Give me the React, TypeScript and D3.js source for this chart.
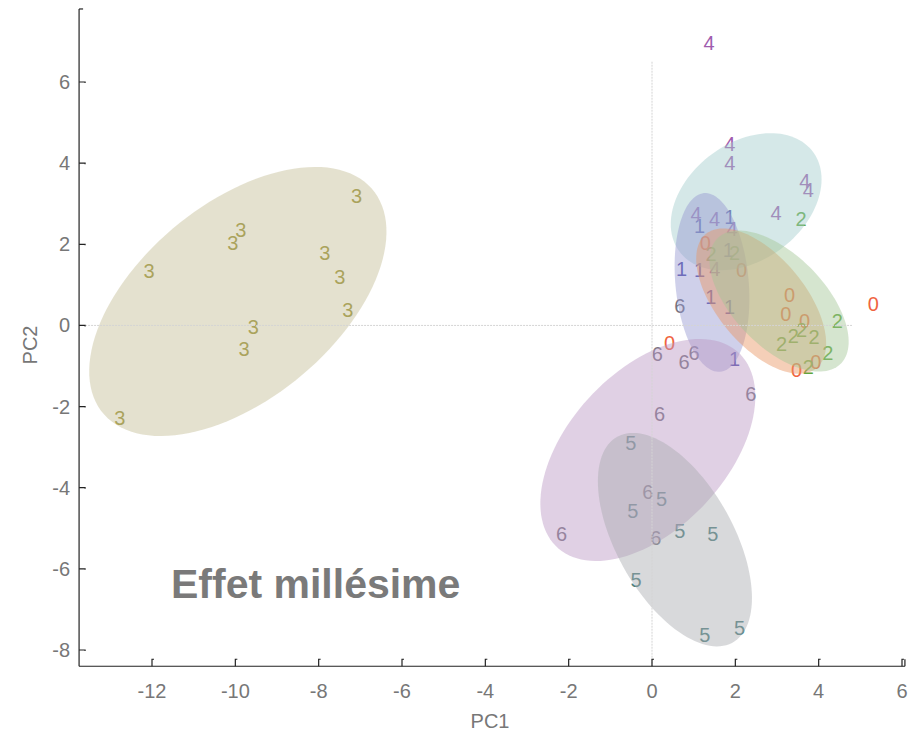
import React from "react";
import * as d3 from "d3";

// ---- data (PC1, PC2) per group ----
const groupNames = ["0", "1", "2", "3", "4", "5", "6"];
const textColors = ["#f0643f", "#4f4ca8", "#5fa63c", "#968e2e", "#a05cae", "#4e7f7f", "#787480"];

const group0: [number, number][] = [
  [1.28, 2.02], [2.15, 1.36], [3.3, 0.74], [3.21, 0.27], [3.66, 0.12],
  [5.31, 0.52], [3.93, -0.9], [3.47, -1.1], [0.42, -0.44],
];
const group1: [number, number][] = [
  [1.14, 2.46], [1.87, 2.67], [1.83, 1.85], [0.71, 1.4], [1.14, 1.36],
  [1.41, 0.7], [1.86, 0.46], [1.98, -0.82],
];
const group2: [number, number][] = [
  [3.58, 2.63], [1.42, 1.77], [1.98, 1.79], [3.59, -0.12], [3.39, -0.25],
  [3.89, -0.29], [3.11, -0.45], [4.45, 0.11], [4.22, -0.69], [3.75, -1.02],
];
const group3: [number, number][] = [
  [-7.09, 3.18], [-9.87, 2.34], [-10.06, 2.04], [-12.07, 1.35], [-7.85, 1.79],
  [-7.49, 1.19], [-7.3, 0.37], [-9.57, -0.03], [-9.79, -0.57], [-12.77, -2.27],
];
const group4: [number, number][] = [
  [3.67, 3.57], [3.75, 3.33], [1.87, 4.46], [1.87, 4.01], [2.98, 2.78],
  [1.06, 2.75], [1.5, 2.63], [1.92, 2.38], [1.51, 1.4], [1.37, 6.96],
];
const group5: [number, number][] = [
  [-0.51, -2.89], [0.23, -4.27], [-0.46, -4.57], [0.67, -5.07], [1.46, -5.15],
  [-0.38, -6.27], [1.27, -7.64], [2.1, -7.47],
];
const group6: [number, number][] = [
  [0.67, 0.49], [0.13, -0.71], [0.77, -0.9], [1.01, -0.69], [2.37, -1.7],
  [0.18, -2.19], [-0.1, -4.1], [-2.17, -5.13], [0.09, -5.25],
];
const groupPoints = [group0, group1, group2, group3, group4, group5, group6];

// ---- confidence ellipses (data units) ----
const ellipseGroup = ["3", "4", "1", "0", "2", "6", "5"];
const ellipseCX = [-9.94, 2.26, 1.44, 2.62, 3.05, -0.1, 0.55];
const ellipseCY = [0.59, 3.05, 1.06, 0.6, 0.6, -3.07, -5.28];
const ellipseA = [4.25, 2.02, 2.21, 2.12, 2.14, 3.24, 2.89];
const ellipseB = [2.38, 1.43, 0.88, 1.07, 1.11, 1.91, 1.41];
const ellipseAngle = [41, 39, 95, -51.7, -47, 48.5, -61.7];
const ellipseFill = ["#c3bc94", "#a2cccc", "#9496d0", "#e99461", "#a2c594", "#ba96c3", "#a8aaaf"];

// ---- axes ----
const xTicks = [-12, -10, -8, -6, -4, -2, 0, 2, 4, 6];
const yTicks = [-8, -6, -4, -2, 0, 2, 4, 6];
const xLim = [-13.75, 6.07];
const yLim = [-8.4, 7.8];
const zeroLineXEnd = 4.8;
const zeroLineYEnd = 6.5;

const W = 912;
const H = 736;

export default function App() {
  const x = d3.scaleLinear().domain([-12, 6]).range([152, 902]);
  const y = d3.scaleLinear().domain([-8, 6]).range([650, 82]);

  const x0 = x(xLim[0]);
  const x1 = x(xLim[1]);
  const yTop = y(yLim[1]);
  const yBot = y(yLim[0]);

  const line = d3
    .line<[number, number]>()
    .x((d) => x(d[0]))
    .y((d) => y(d[1]))
    .curve(d3.curveLinearClosed);

  const ellipsePath = (i: number) => {
    const th = (ellipseAngle[i] * Math.PI) / 180;
    const pts: [number, number][] = d3.range(0, 120).map((k) => {
      const t = (k / 120) * 2 * Math.PI;
      const ex = ellipseA[i] * Math.cos(t);
      const ey = ellipseB[i] * Math.sin(t);
      return [
        ellipseCX[i] + ex * Math.cos(th) - ey * Math.sin(th),
        ellipseCY[i] + ex * Math.sin(th) + ey * Math.cos(th),
      ];
    });
    return line(pts) || "";
  };

  const font = "'Liberation Sans', Arial, Helvetica, sans-serif";

  return (
    <svg width={W} height={H} style={{ display: "block", position: "absolute", left: 0, top: 0 }} fontFamily={font}>
      <rect width={W} height={H} fill="#ffffff" />
      {/* point labels */}
      <g fontSize={20} textAnchor="middle" dominantBaseline="central">
        {groupPoints.map((pts, gi) =>
          pts.map((p, j) => (
            <text key={`t${gi}-${j}`} x={x(p[0])} y={y(p[1])} fill={textColors[gi]}>
              {groupNames[gi]}
            </text>
          ))
        )}
      </g>
      {/* ellipses */}
      <g>
        {ellipseGroup.map((g, i) => (
          <path key={`e${g}`} d={ellipsePath(i)} fill={ellipseFill[i]} fillOpacity={0.45} stroke="none" />
        ))}
      </g>
      {/* zero lines */}
      <line x1={x(0)} x2={x(0)} y1={y(zeroLineYEnd)} y2={yBot} stroke="#d4d4d4" strokeWidth={1} strokeDasharray="2,1" />
      <line x1={x0} x2={x(zeroLineXEnd)} y1={y(0)} y2={y(0)} stroke="#d4d4d4" strokeWidth={1} strokeDasharray="2,1" />
      {/* axes */}
      <g stroke="#222" strokeWidth={1.2} fill="none">
        <line x1={x0} x2={x0} y1={yTop} y2={yBot} />
        <line x1={x0} x2={x1} y1={yBot} y2={yBot} />
        <line x1={x0} x2={x0 + 4} y1={yTop} y2={yTop} />
        <path d={`M${x1},${yBot} V${yBot - 7}`} />
        {xTicks.map((t) => (
          <path key={`xt${t}`} d={`M${x(t)},${yBot} V${yBot - 7} H${x(t) + 2}`} />
        ))}
        {yTicks.map((t) => (
          <path key={`yt${t}`} d={`M${x0},${y(t)} H${x0 + 6} V${y(t) + 1}`} />
        ))}
      </g>
      <g fontSize={20} fill="#777777">
        {xTicks.map((t) => (
          <text key={`xl${t}`} x={x(t)} y={yBot + 32} textAnchor="middle">
            {t}
          </text>
        ))}
        {yTicks.map((t) => (
          <text key={`yl${t}`} x={x0 - 9} y={y(t)} textAnchor="end" dominantBaseline="central">
            {t}
          </text>
        ))}
        <text x={490} y={728} textAnchor="middle">PC1</text>
        <text transform="translate(30,345) rotate(-90)" textAnchor="middle" dominantBaseline="central">PC2</text>
      </g>
      <text x={171} y={598} fontSize={41} fontWeight="bold" fill="#7a7a7a">
        Effet millésime
      </text>
    </svg>
  );
}
